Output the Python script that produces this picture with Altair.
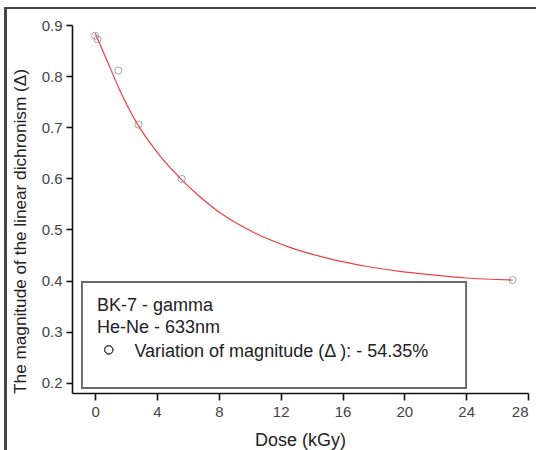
import altair as alt
import pandas as pd

# measured points
dose = [0.0, 0.15, 1.5, 2.8, 5.6, 27.0]
delta = [0.879, 0.872, 0.811, 0.705, 0.599, 0.401]

# fitted curve
fit_dose = [0.0, 0.7, 1.6, 2.7, 3.9, 5.6, 6.7, 8.2, 10.4, 12.5, 15.4, 17.5, 19.7, 21.8, 24.0, 27.0]
fit_delta = [0.884, 0.835, 0.772, 0.708, 0.655, 0.597, 0.566, 0.530, 0.492, 0.466, 0.441, 0.428, 0.418, 0.411, 0.405, 0.401]

x_ticks = [0, 2, 4, 6, 8, 10, 12, 14, 16, 18, 20, 22, 24, 26, 28]
y_ticks = [0.2, 0.25, 0.3, 0.35, 0.4, 0.45, 0.5, 0.55, 0.6, 0.65, 0.7, 0.75, 0.8, 0.85, 0.9]

legend_lines = ["BK-7 - gamma", "He-Ne - 633nm", "Variation of magnitude (\u0394 ): - 54.35%"]

FONT = "Liberation Sans"
W, H = 456, 368

pts = pd.DataFrame({"dose": dose, "delta": delta})
fit = pd.DataFrame({"dose": fit_dose, "delta": fit_delta})

xscale = alt.Scale(domain=[-1.5, 28], nice=False, zero=False)
yscale = alt.Scale(domain=[0.18, 0.9], nice=False, zero=False)

xaxis = alt.Axis(
    title="Dose (kGy)", values=x_ticks,
    labelExpr="datum.value % 4 === 0 ? datum.label : ''",
    tickSize={"condition": {"test": "datum.value % 4 === 0", "value": 7}, "value": 4},
    grid=False, domainColor="#111", domainWidth=1.6, tickColor="#111", tickWidth=1.6,
    labelFont=FONT, labelFontSize=15, labelColor="#444", labelPadding=4,
    titleFont=FONT, titleFontSize=18, titleFontWeight="normal", titleColor="#222",
    titleX=228, titleY=52, titleBaseline="alphabetic",
)
yaxis = alt.Axis(
    title="The magnitude of the linear dichronism (\u0394)", values=y_ticks,
    labelExpr="round(datum.value*20) % 2 === 0 ? format(datum.value, '.1f') : ''",
    tickSize={"condition": {"test": "round(datum.value*20) % 2 === 0", "value": 6}, "value": 4},
    grid=False, domainColor="#111", domainWidth=1.6, tickColor="#111", tickWidth=1.6,
    labelFont=FONT, labelFontSize=15, labelColor="#444", labelPadding=4,
    titleFont=FONT, titleFontSize=17.2, titleFontWeight="normal", titleColor="#222",
    titleX=-52, titleY=206, titleBaseline="middle", titleAngle=270,
)

curve = alt.Chart(fit).mark_line(color="#ee4040", strokeWidth=1.2, interpolate="monotone").encode(
    x=alt.X("dose:Q", scale=xscale, axis=xaxis),
    y=alt.Y("delta:Q", scale=yscale, axis=yaxis),
)
points = alt.Chart(pts).mark_point(shape="circle", filled=False, color="#808080", size=50, strokeWidth=1).encode(
    x=alt.X("dose:Q", scale=xscale),
    y=alt.Y("delta:Q", scale=yscale),
)

box = alt.Chart(pts).mark_rect(fill="white", stroke="#6a6a6a", strokeWidth=1.8).encode(
    x=alt.value(10), x2=alt.value(394), y=alt.value(257), y2=alt.value(363)
)

leg_df = pd.DataFrame({"t": legend_lines, "px": [25, 25, 62.4], "py": [285.5, 307.7, 331.6]})
leg_text = alt.Chart(leg_df).mark_text(
    font=FONT, fontSize=18, align="left", baseline="alphabetic", color="#222"
).encode(x=alt.X("px:Q", scale=None), y=alt.Y("py:Q", scale=None), text="t:N")

leg_sym = alt.Chart(pts).mark_point(shape="circle", filled=False, color="#555", size=70, strokeWidth=1).encode(
    x=alt.value(36.7), y=alt.value(324.8)
)

frame_top = alt.Chart(pts).mark_rule(color="#444", strokeWidth=2).encode(
    x=alt.value(-67), x2=alt.value(470), y=alt.value(-17)
)
frame_left = alt.Chart(pts).mark_rule(color="#444", strokeWidth=2).encode(
    x=alt.value(-66.5), y=alt.value(-18), y2=alt.value(430)
)

chart = alt.layer(frame_top, frame_left, curve, points, box, leg_text, leg_sym).properties(
    width=W, height=H,
    autosize=alt.AutoSizeParams(type="none"),
    padding={"left": 72, "top": 25, "right": 8, "bottom": 57},
    background="white",
).configure_view(strokeWidth=0)

chart.save("out.html", embed_options={"renderer": "svg", "actions": False})
